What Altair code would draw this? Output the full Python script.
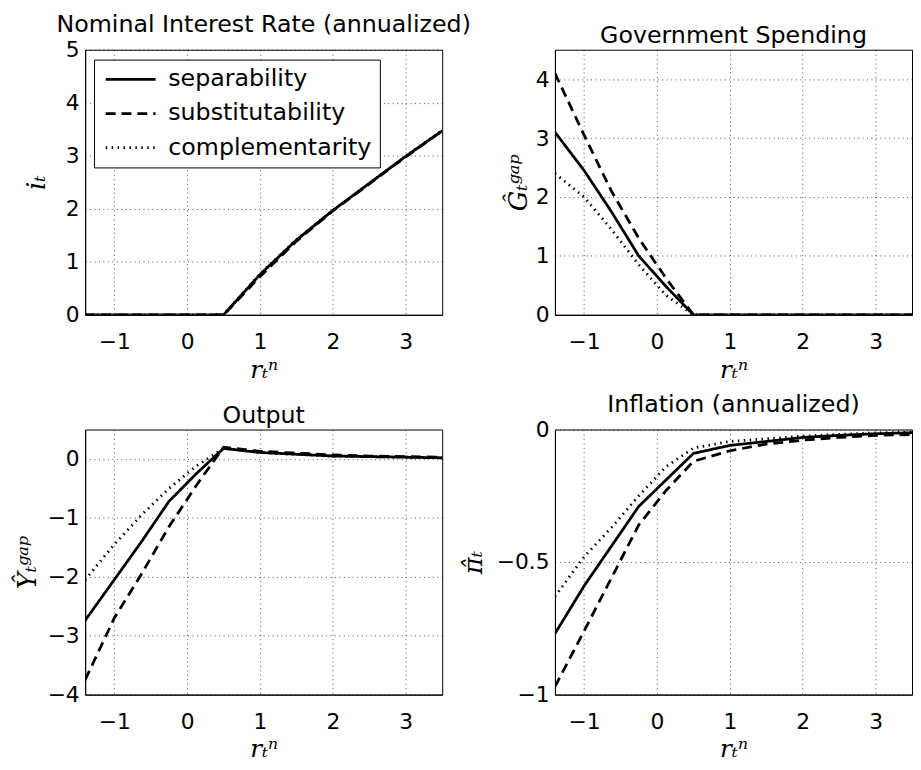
import altair as alt
import pandas as pd

series_names = ["separability", "substitutability", "complementarity"]
xs = [-1.4, -1.0, -0.625, -0.25, 0.125, 0.5, 1.0, 1.5, 2.0, 2.5, 3.0, 3.5]

# Nominal interest rate
i_sep = [0, 0, 0, 0, 0, 0, 0.76, 1.41, 1.97, 2.48, 2.99, 3.47]
i_sub = [0, 0, 0, 0, 0, 0, 0.72, 1.39, 1.96, 2.47, 2.98, 3.47]
i_comp = [0, 0, 0, 0, 0, 0, 0.77, 1.42, 1.97, 2.48, 2.99, 3.48]

# Government spending gap
g_sep = [3.1, 2.45, 1.75, 1.0, 0.48, 0, 0, 0, 0, 0, 0, 0]
g_sub = [4.1, 3.05, 2.1, 1.3, 0.62, 0, 0, 0, 0, 0, 0, 0]
g_comp = [2.4, 2.0, 1.45, 0.85, 0.33, 0, 0, 0, 0, 0, 0, 0]

# Output gap
y_sep = [-2.74, -2.05, -1.4, -0.72, -0.25, 0.18, 0.11, 0.08, 0.05, 0.04, 0.03, 0.02]
y_sub = [-3.75, -2.7, -1.95, -1.15, -0.45, 0.2, 0.13, 0.1, 0.07, 0.05, 0.04, 0.03]
y_comp = [-2.05, -1.45, -0.95, -0.5, -0.12, 0.18, 0.11, 0.08, 0.05, 0.04, 0.03, 0.02]

# Inflation
p_sep = [-0.77, -0.59, -0.44, -0.29, -0.19, -0.09, -0.06, -0.045, -0.03, -0.022, -0.016, -0.012]
p_sub = [-0.97, -0.76, -0.56, -0.36, -0.23, -0.12, -0.08, -0.055, -0.04, -0.03, -0.022, -0.019]
p_comp = [-0.63, -0.48, -0.37, -0.25, -0.14, -0.07, -0.045, -0.035, -0.025, -0.018, -0.013, -0.01]

x_ticks = [-1, 0, 1, 2, 3]

SANS = "DejaVu Sans"
SERIF = "DejaVu Serif"
W, H = 361, 268


def frame(a, b, c):
    rows = []
    for name, vals in zip(series_names, (a, b, c)):
        for x, v in zip(xs, vals):
            rows.append({"x": x, "v": v, "series": name})
    return pd.DataFrame(rows)


def panel(df, title, ytitle, ydomain, yticks, ytpad, show_legend=False):
    if show_legend:
        leg = alt.Legend(
            orient="none", legendX=9, legendY=10, title=None,
            symbolType="M-2.4,0H2.4", symbolSize=441, symbolStrokeColor="black",
            symbolFillColor="transparent", symbolOffset=17,
            labelFont=SANS, labelFontSize=24, labelColor="black", labelLimit=0,
            labelOffset=26, padding=8, rowPadding=10.5,
            strokeColor="black", fillColor="white",
        )
    else:
        leg = None
    return alt.Chart(df).mark_line(color="black", clip=True, strokeCap="butt").encode(
        x=alt.X("x:Q", scale=alt.Scale(domain=[-1.4, 3.5], nice=False, zero=False),
                axis=alt.Axis(values=x_ticks, title="rₜⁿ", labelPadding=17,
                              titlePadding=5, format="~g")),
        y=alt.Y("v:Q", scale=alt.Scale(domain=ydomain, nice=False, zero=False),
                axis=alt.Axis(values=yticks, title=ytitle, labelPadding=6,
                              titlePadding=ytpad, titleFontSize=26, format="~g")),
        strokeDash=alt.StrokeDash("series:N", scale=alt.Scale(domain=series_names,
                                  range=[[1, 0], [10, 6], [1.5, 4.5]]), legend=leg),
        strokeWidth=alt.StrokeWidth("series:N", scale=alt.Scale(domain=series_names,
                                    range=[2.8, 2.8, 1.3]), legend=leg),
        order=alt.Order("series:N"),
    ).properties(
        width=W, height=H,
        title=alt.Title(title, font=SANS, fontSize=24, fontWeight="normal",
                        color="black", offset=2),
    )


p1 = panel(frame(i_sep, i_sub, i_comp), "Nominal Interest Rate (annualized)", "iₜ",
           [0, 5], [0, 1, 2, 3, 4, 5], 16, show_legend=True)
p2 = panel(frame(g_sep, g_sub, g_comp), "Government Spending", "Ĝₜᵍᵃᵖ",
           [0, 4.5], [0, 1, 2, 3, 4], 4)
p3 = panel(frame(y_sep, y_sub, y_comp), "Output", "Ŷₜᵍᵃᵖ",
           [-4, 0.5], [-4, -3, -2, -1, 0], 7)
p4 = panel(frame(p_sep, p_sub, p_comp), "Inflation (annualized)", "π̂ₜ",
           [-1, 0], [-1, -0.5, 0], 10)

chart = alt.ConcatChart(
    concat=[p1, p2, p3, p4], columns=2,
    spacing=alt.RowColnumber(column=114, row=116), bounds="flush",
).resolve_scale(strokeDash="independent", strokeWidth="independent").configure_view(
    stroke="black", strokeWidth=1
).configure_axis(
    domainColor="black", domainWidth=1, ticks=False,
    grid=True, gridColor="black", gridDash=[1, 3.5], gridOpacity=0.7, gridWidth=1,
    labelFont=SANS, labelFontSize=22, labelColor="black",
    titleFont=SERIF, titleFontStyle="italic", titleFontWeight="normal",
    titleFontSize=25, titleColor="black",
).properties(
    padding={"left": 6, "top": 0, "right": 0, "bottom": 0},
    background="white",
)

chart.save("out.html", embed_options={"renderer": "svg", "actions": False})
